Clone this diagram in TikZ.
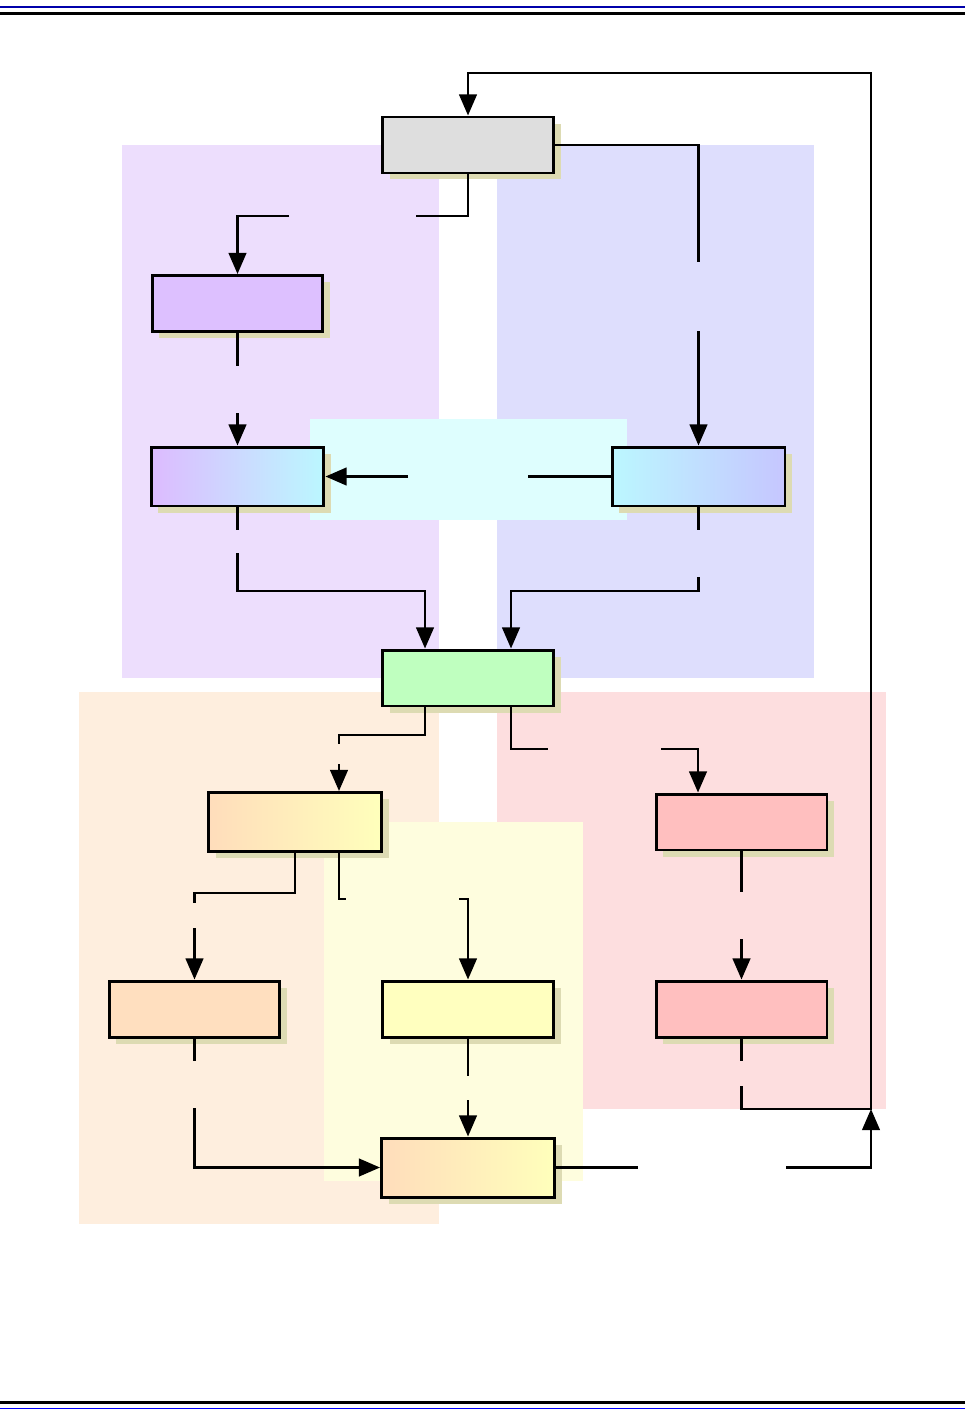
\documentclass[tikz,border=0pt]{standalone}
\usepackage{tikz}
\usetikzlibrary{arrows.meta,shadows}

\definecolor{areaViolet}{RGB}{237,222,253}
\definecolor{areaBlue}{RGB}{222,222,253}
\definecolor{areaCyan}{RGB}{222,254,254}
\definecolor{areaPeach}{RGB}{254,238,222}
\definecolor{areaPink}{RGB}{253,222,223}
\definecolor{areaYellow}{RGB}{254,253,222}
\definecolor{shadowTan}{RGB}{221,219,179}
\definecolor{fillGray}{RGB}{222,222,222}
\definecolor{fillViolet}{RGB}{221,192,255}
\definecolor{fillGreen}{RGB}{191,255,191}
\definecolor{fillPink}{RGB}{255,191,191}
\definecolor{fillPeach}{RGB}{255,223,191}
\definecolor{fillYellow}{RGB}{255,255,191}
\definecolor{gradViolet}{RGB}{221,187,255}
\definecolor{gradCyan}{RGB}{187,247,255}
\definecolor{gradBlue}{RGB}{198,198,255}
\definecolor{gradPeach}{RGB}{255,221,187}
\definecolor{gradYellow}{RGB}{255,255,187}
\definecolor{ruleNavy}{RGB}{0,0,170}
\definecolor{ruleBlue}{RGB}{0,0,255}

\begin{document}
\begin{tikzpicture}[x=0.02cm, y=-0.02cm,
        >={Triangle[length=12pt,width=10pt]}]
        \tikzstyle{boxStyle} = [rectangle, draw=black, line width=1.7pt,
            minimum width=3.42cm, minimum height=1.12cm, inner sep=0pt,
            drop shadow={shadow xshift=4pt, shadow yshift=-3.7pt,
                fill=shadowTan, opacity=1}]
        \tikzstyle{mixStyle} = [boxStyle, minimum width=3.46cm, minimum height=1.18cm]
        \tikzstyle{lineEdge} = [draw=black, line width=1.4pt]
        \tikzstyle{arrowEdge} = [lineEdge, ->]
        \useasboundingbox (0,0) rectangle (965,1416);
        % page rules
        \draw[ruleNavy, line width=0.7pt] (0,7) -- (965,7);
        \draw[line width=1.8pt] (0,13.5) -- (965,13.5);
        \draw[line width=1.8pt] (0,1402.5) -- (965,1402.5);
        \draw[ruleBlue, line width=0.7pt] (0,1408.5) -- (965,1408.5);
        % areas
        \fill[areaViolet] (122,145) rectangle (439,678);
        \fill[areaBlue] (497,145) rectangle (814,678);
        \fill[areaCyan] (310,419) rectangle (627,520);
        \fill[areaPeach] (79,692) rectangle (439,1224);
        \fill[areaPink] (497,692) rectangle (886,1109);
        \fill[areaYellow] (324,822) rectangle (583,1181);
        % boxes
        \node[boxStyle, fill=fillGray] (grayBox) at (468,145) {};
        \node[boxStyle, fill=fillViolet] (violetBox) at (237.5,303.5) {};
        \node[mixStyle, left color=gradViolet, right color=gradCyan] (violetMix) at (237.5,476.5) {};
        \node[mixStyle, left color=gradCyan, right color=gradBlue] (cyanMix) at (698.5,476.5) {};
        \node[boxStyle, fill=fillGreen] (greenBox) at (468,678) {};
        \node[mixStyle, left color=gradPeach, right color=gradYellow] (peachMix) at (295,822) {};
        \node[boxStyle, fill=fillPink] (pinkTop) at (741.5,822) {};
        \node[boxStyle, fill=fillPeach] (peachBox) at (194.5,1009) {};
        \node[boxStyle, fill=fillYellow] (yellowBox) at (468,1009) {};
        \node[boxStyle, fill=fillPink] (pinkLow) at (741.5,1009) {};
        \node[mixStyle, left color=gradPeach, right color=gradYellow] (peachEnd) at (468,1167.5) {};
        % line breaks
        \coordinate (gA) at (416,216);   \coordinate (gB) at (289,216);
        \coordinate (gC) at (698.5,262); \coordinate (gD) at (698.5,331);
        \coordinate (vA) at (237.5,366); \coordinate (vB) at (237.5,413);
        \coordinate (cA) at (528,476.5); \coordinate (cB) at (408,476.5);
        \coordinate (mA) at (237.5,530); \coordinate (mB) at (237.5,553);
        \coordinate (mC) at (425,591);
        \coordinate (nA) at (698.5,530); \coordinate (nB) at (698.5,577);
        \coordinate (nC) at (511,591);
        \coordinate (pA) at (339,735);   \coordinate (pB) at (339,744);
        \coordinate (pC) at (339,764);
        \coordinate (qA) at (548,749);   \coordinate (qB) at (661,749);
        \coordinate (qC) at (698,749);
        \coordinate (rA) at (194.5,893); \coordinate (rB) at (194.5,903);
        \coordinate (rC) at (194.5,928);
        \coordinate (sA) at (346,899);   \coordinate (sB) at (459,899);
        \coordinate (tA) at (741.5,892); \coordinate (tB) at (741.5,939);
        \coordinate (uA) at (194.5,1061); \coordinate (uB) at (194.5,1108);
        \coordinate (wA) at (468,1076);  \coordinate (wB) at (468,1100);
        \coordinate (kA) at (741.5,1061); \coordinate (kB) at (741.5,1086);
        \coordinate (kC) at (871,1109);  \coordinate (kD) at (871,73);
        \coordinate (zA) at (638,1167.5); \coordinate (zB) at (786,1167.5);
        % connectors
        \foreach \from/\to in {violetBox.south/vA, cyanMix.west/cA, violetMix.south/mA,
                               cyanMix.south/nA, pinkTop.south/tA, peachBox.south/uA,
                               yellowBox.south/wA, pinkLow.south/kA, peachEnd.east/zA}
            \path[lineEdge] (\from) -- (\to);
        \foreach \from/\to in {gD/cyanMix.north, vB/violetMix.north, cB/violetMix.east,
                               rC/peachBox.north, tB/pinkLow.north, wB/peachEnd.north}
            \path[arrowEdge] (\from) -- (\to);
        \draw[lineEdge] (grayBox.south) |- (gA);
        \draw[arrowEdge] (gB) -| (violetBox.north);
        \draw[lineEdge] (grayBox.east) -| (gC);
        \draw[arrowEdge] (mB) |- (mC) -- (greenBox.north -| mC);
        \draw[arrowEdge] (nB) |- (nC) -- (greenBox.north -| nC);
        \draw[lineEdge] (greenBox.south -| mC) |- (pA) -- (pB);
        \draw[arrowEdge] (pC) -- (peachMix.north -| pC);
        \draw[lineEdge] (greenBox.south -| nC) |- (qA);
        \draw[arrowEdge] (qB) -- (qC) -- (pinkTop.north -| qC);
        \draw[lineEdge] (peachMix.south) |- (rA) -- (rB);
        \draw[lineEdge] (peachMix.south -| pC) |- (sA);
        \draw[arrowEdge] (sB) -| (yellowBox.north);
        \draw[arrowEdge] (uB) |- (peachEnd.west);
        \draw[arrowEdge] (kB) |- (kC) -- (kD) -| (grayBox.north);
        \draw[arrowEdge] (zB) -| (kC);
\end{tikzpicture}
\end{document}
